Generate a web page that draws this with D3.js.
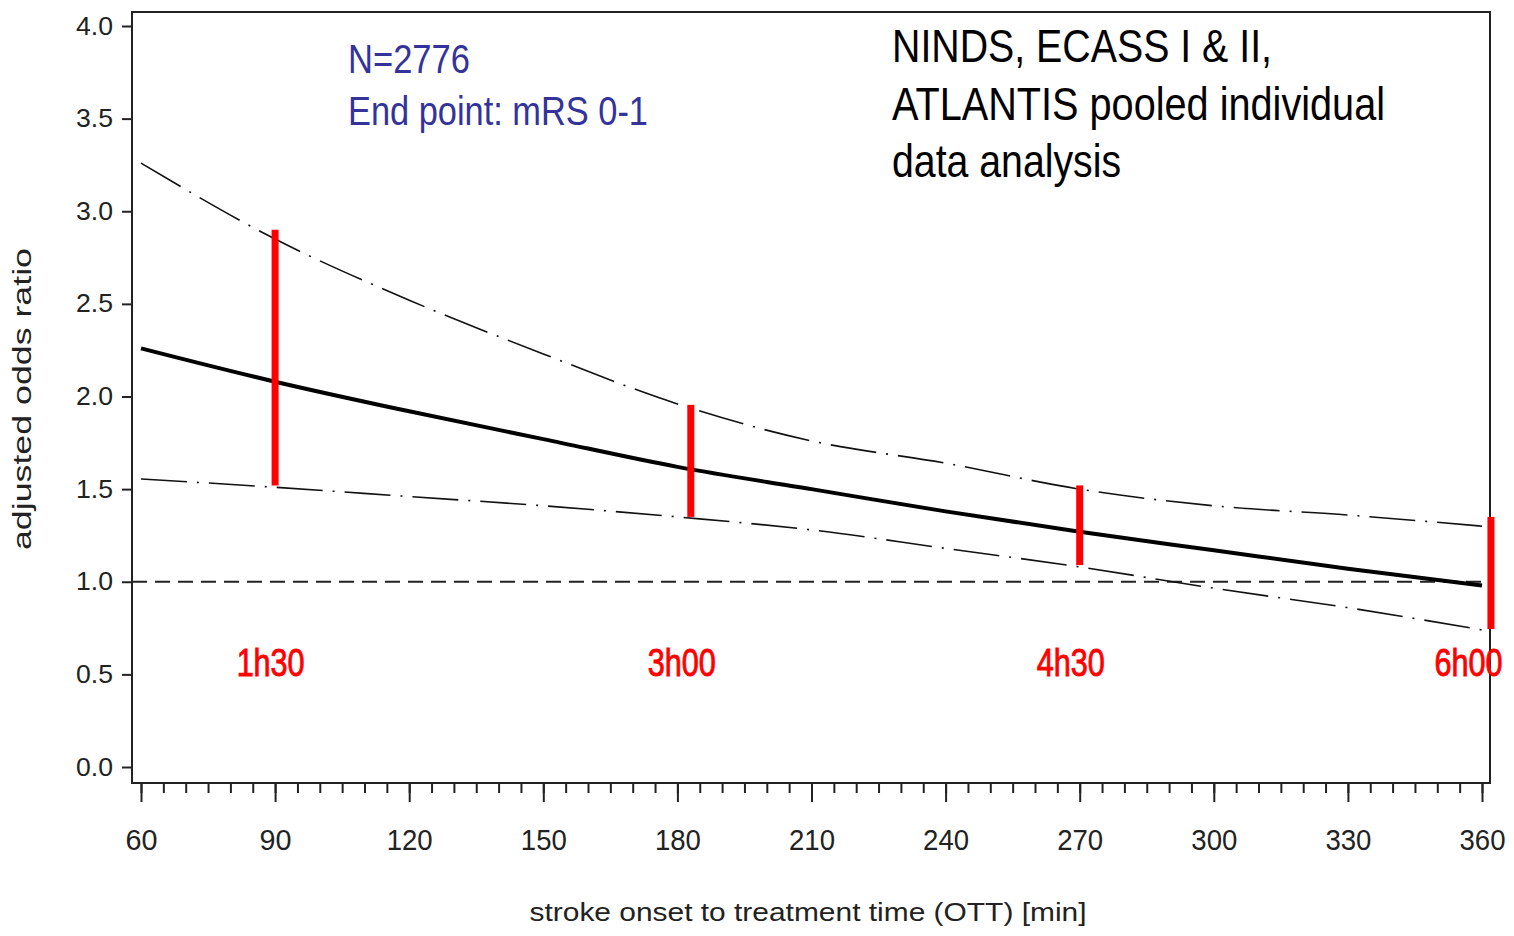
<!DOCTYPE html>
<html lang="en">
<head>
<meta charset="UTF-8">
<title>Adjusted odds ratio vs OTT</title>
<script src="https://d3js.org/d3.v7.min.js"></script>
<style>
  body { margin: 0; background: #fff; }
  svg text { font-family: "Liberation Sans", Arial, sans-serif; }
  .narrow { font-family: "Liberation Sans Narrow", "Liberation Sans", Arial, sans-serif; }
</style>
</head>
<body>
<div id="chart"></div>
<script>
// values
const minutes  = [60, 90, 120, 150, 180, 210, 240, 270, 300, 330, 360];
const oddsRatio = [2.26, 2.08, 1.92, 1.77, 1.62, 1.50, 1.38, 1.27, 1.17, 1.07, 0.98];
const upperCI  = [3.26, 2.85, 2.52, 2.23, 1.96, 1.76, 1.64, 1.50, 1.41, 1.36, 1.30];
const lowerCI  = [1.555, 1.51, 1.46, 1.41, 1.35, 1.28, 1.18, 1.08, 0.965, 0.86, 0.74];

// red interval bars
const barTimes = [90, 183, 270, 362];
const barLow   = [1.52, 1.35, 1.09, 0.745];
const barHigh  = [2.90, 1.955, 1.52, 1.35];
const barLabels = ["1h30", "3h00", "4h30", "6h00"];
const labelTimes = [89, 181, 268, 357];

const yTicks = [0, 0.5, 1, 1.5, 2, 2.5, 3, 3.5, 4];
const xTicks = [60, 90, 120, 150, 180, 210, 240, 270, 300, 330, 360];
const xMinor = d3.range(60, 361, 5);

const W = 1514, H = 936;
const frame = { left: 132, top: 12, right: 1490, bottom: 783 };

const x = d3.scaleLinear().domain([60, 360]).range([141, 1482]);
const y = d3.scaleLinear().domain([0, 4]).range([767, 26]);

const svg = d3.select("#chart").append("svg")
  .attr("width", W).attr("height", H);

// plot frame
svg.append("rect")
  .attr("x", frame.left).attr("y", frame.top)
  .attr("width", frame.right - frame.left)
  .attr("height", frame.bottom - frame.top)
  .attr("fill", "none").attr("stroke", "#222").attr("stroke-width", 2);

// y axis
const gy = svg.append("g")
  .attr("transform", `translate(${frame.left},0)`)
  .call(d3.axisLeft(y).tickValues(yTicks).tickFormat(d3.format(".1f"))
    .tickSize(10).tickPadding(9));
gy.select(".domain").remove();
gy.selectAll("line").attr("stroke", "#222").attr("stroke-width", 2);
gy.selectAll("text")
  .attr("font-size", 25).attr("fill", "#222")
  .attr("textLength", 37).attr("lengthAdjust", "spacingAndGlyphs");

// x axis, minor then major
const gxm = svg.append("g")
  .attr("transform", `translate(0,${frame.bottom})`)
  .call(d3.axisBottom(x).tickValues(xMinor).tickSize(10).tickFormat(""));
gxm.select(".domain").remove();
gxm.selectAll("line").attr("stroke", "#222").attr("stroke-width", 2);

const gx = svg.append("g")
  .attr("transform", `translate(0,${frame.bottom})`)
  .call(d3.axisBottom(x).tickValues(xTicks).tickSize(19));
gx.select(".domain").remove();
gx.selectAll("line").attr("stroke", "#222").attr("stroke-width", 2);
gx.selectAll("text")
  .attr("y", 67).attr("dy", 0)
  .attr("font-size", 29).attr("fill", "#222")
  .attr("textLength", d => d < 100 ? 32 : 46)
  .attr("lengthAdjust", "spacingAndGlyphs");

// axis titles
svg.append("text")
  .attr("x", 808).attr("y", 921)
  .attr("text-anchor", "middle")
  .attr("font-size", 26).attr("fill", "#222")
  .attr("textLength", 557).attr("lengthAdjust", "spacingAndGlyphs")
  .text("stroke onset to treatment time (OTT) [min]");

svg.append("text")
  .attr("transform", "translate(31,399) rotate(-90)")
  .attr("text-anchor", "middle")
  .attr("font-size", 26).attr("fill", "#222")
  .attr("textLength", 302).attr("lengthAdjust", "spacingAndGlyphs")
  .text("adjusted odds ratio");

// reference line at 1
svg.append("line")
  .attr("x1", frame.left).attr("x2", frame.right)
  .attr("y1", y(1)).attr("y2", y(1))
  .attr("stroke", "#222").attr("stroke-width", 2)
  .attr("stroke-dasharray", "15 8");

const line = d3.line().x(d => x(d[0])).y(d => y(d[1])).curve(d3.curveMonotoneX);

svg.append("path")
  .datum(d3.zip(minutes, upperCI))
  .attr("d", line).attr("fill", "none")
  .attr("stroke", "#111").attr("stroke-width", 1.6)
  .attr("stroke-dasharray", "46 10 2 10");

svg.append("path")
  .datum(d3.zip(minutes, lowerCI))
  .attr("d", line).attr("fill", "none")
  .attr("stroke", "#111").attr("stroke-width", 1.6)
  .attr("stroke-dasharray", "46 10 2 10");

svg.append("path")
  .datum(d3.zip(minutes, oddsRatio))
  .attr("d", line).attr("fill", "none")
  .attr("stroke", "#000").attr("stroke-width", 4);

// red bars
svg.selectAll(".bar")
  .data(d3.zip(barTimes, barLow, barHigh))
  .join("line")
  .attr("class", "bar")
  .attr("x1", d => x(d[0])).attr("x2", d => x(d[0]))
  .attr("y1", d => y(d[2])).attr("y2", d => y(d[1]))
  .attr("stroke", "#ff0000").attr("stroke-width", 7);

svg.selectAll(".blabel")
  .data(d3.zip(labelTimes, barLabels))
  .join("text")
  .attr("class", "blabel narrow")
  .attr("x", d => x(d[0])).attr("y", y(0.49))
  .attr("text-anchor", "middle")
  .attr("font-size", 38).attr("fill", "#ff0000")
  .attr("stroke", "#ff0000").attr("stroke-width", 0.9)
  .attr("textLength", 68).attr("lengthAdjust", "spacingAndGlyphs")
  .text(d => d[1]);

// blue annotation
const blue = svg.append("text").attr("class", "narrow")
  .attr("font-size", 41).attr("fill", "#33339a");
blue.append("tspan").attr("x", 348).attr("y", 73)
  .attr("textLength", 122).attr("lengthAdjust", "spacingAndGlyphs").text("N=2776");
blue.append("tspan").attr("x", 348).attr("y", 125)
  .attr("textLength", 300).attr("lengthAdjust", "spacingAndGlyphs").text("End point: mRS 0-1");

// study note
const note = svg.append("text").attr("class", "narrow")
  .attr("font-size", 47).attr("fill", "#000");
[["NINDS, ECASS I & II,", 62, 380], ["ATLANTIS pooled individual", 120, 493], ["data analysis", 177, 229]]
  .forEach(([t, yy, len]) => {
    note.append("tspan").attr("x", 892).attr("y", yy)
      .attr("textLength", len).attr("lengthAdjust", "spacingAndGlyphs").text(t);
  });
</script>
</body>
</html>
